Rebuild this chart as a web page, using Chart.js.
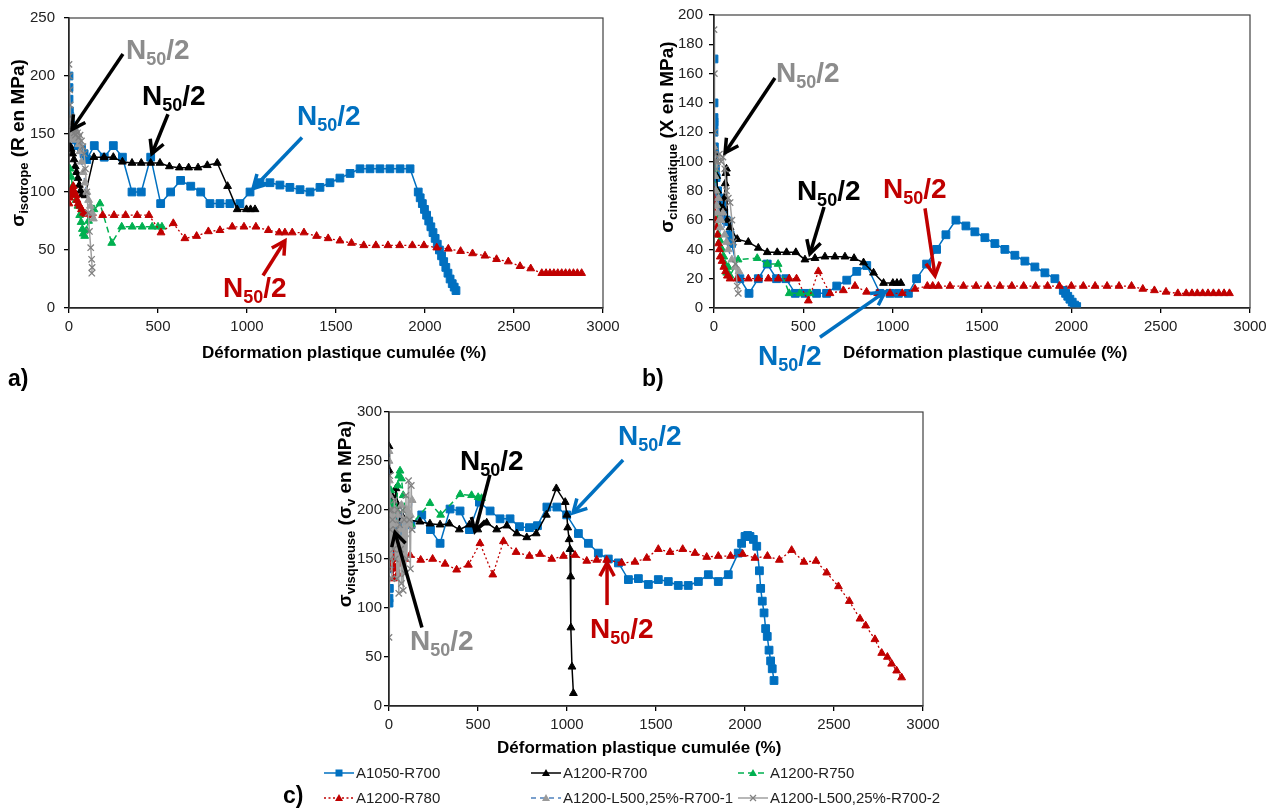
<!DOCTYPE html>
<html><head><meta charset="utf-8">
<script src="https://cdn.jsdelivr.net/npm/chart.js@4.4.1/dist/chart.umd.min.js"></script>
<style>
html,body{margin:0;padding:0;background:#fff;}
#wrap{position:relative;width:1278px;height:810px;overflow:hidden;font-family:"Liberation Sans",Arial,sans-serif;}
#wrap canvas{position:absolute;left:0;top:0;}
.leg{position:absolute;font-size:15px;color:#1f1f1f;white-space:nowrap;line-height:18px;height:18px;}
.leg svg{vertical-align:top;margin-top:2px;margin-right:2px;}
</style></head><body>
<div id="wrap">
<canvas id="ca" width="1278" height="810"></canvas>
<canvas id="cb" width="1278" height="810"></canvas>
<canvas id="cc" width="1278" height="810"></canvas>
<div id="legend"></div>
</div>
<script>
// ---------- DATA ----------
const seriesNames = ['A1050-R700','A1200-R700','A1200-R750','A1200-R780','A1200-L500,25%-R700-1','A1200-L500,25%-R700-2'];
const xTicks = [0,500,1000,1500,2000,2500,3000];

// a) sigma isotrope (R en MPa)
const isoA1050R700 = [[0,200],[0,190],[0,180],[2,170],[5,165],[10,158],[20,155],[30,150],[40,145],[52,140],[70,137],[85,133],[100,128],[142,140],[198,130],[249,140],[300,130],[354,100],[406,100],[459,130],[515,90],[571,100],[627,110],[684,105],[740,100],[792,90],[848,90],[904,90],[960,90],[1017,100],[1073,108],[1129,108],[1185,106],[1241,104],[1298,102],[1354,100],[1410,104],[1466,108],[1522,112],[1579,116],[1635,120],[1691,120],[1747,120],[1803,120],[1860,120],[1916,120],[1962,100],[1973,95],[1985,90],[1997,85],[2009,80],[2021,75],[2033,70],[2045,65],[2057,60],[2069,55],[2081,50],[2093,45],[2105,40],[2117,35],[2129,30],[2141,25],[2153,21],[2164,18],[2174,15]];
const isoA1200R700 = [[5,140],[12,137],[20,133],[28,128],[35,122],[42,117],[50,112],[58,106],[65,101],[75,98],[90,97],[140,130],[197,130],[249,130],[300,126],[354,125],[406,125],[459,125],[511,125],[564,122],[620,121],[672,121],[725,121],[777,123],[833,125],[891,105],[945,85],[997,85],[1020,85],[1045,85]];
const isoA1200R750 = [[5,120],[12,113],[20,105],[30,98],[40,93],[50,88],[60,80],[68,74],[75,68],[80,64],[88,62],[99,67],[110,75],[140,85],[174,90],[240,56],[296,70],[355,70],[411,70],[467,70],[500,70],[522,70]];
const isoA1200R780 = [[0,90],[3,95],[6,100],[10,98],[15,100],[20,103],[24,105],[30,100],[39,97],[45,93],[52,90],[60,88],[70,85],[82,82],[94,81],[126,80],[189,80],[253,80],[318,80],[383,80],[449,80],[517,65],[586,73],[651,60],[717,62],[783,66],[848,67],[917,70],[983,70],[1050,70],[1120,67],[1181,65],[1213,65],[1254,65],[1320,65],[1391,62],[1456,60],[1522,58],[1587,56],[1656,54],[1724,54],[1792,54],[1858,54],[1929,54],[1994,54],[2066,52],[2131,51],[2200,49],[2267,47],[2337,45],[2402,42],[2468,40],[2534,36],[2594,34],[2656,30],[2680,30],[2702,30],[2724,30],[2746,30],[2768,30],[2790,30],[2812,30],[2834,30],[2856,30],[2880,30]];
const isoL500R700_1 = [[0,150],[3,160],[6,155],[10,148],[15,152],[20,145],[25,150],[30,155],[35,148],[40,150],[45,145],[50,150],[55,141],[62,135],[70,126],[80,117],[90,108],[100,100],[110,93],[120,88],[130,82],[137,77]];
const isoL500R700_2 = [[0,210],[2,200],[4,188],[6,175],[8,165],[12,160],[18,157],[24,154],[30,151],[36,149],[42,154],[48,151],[55,147],[62,149],[70,144],[78,139],[85,133],[92,120],[100,100],[108,82],[115,66],[122,52],[127,42],[130,35],[128,30]];

// b) sigma cinematique (X en MPa)
const cinA1050R700 = [[0,170],[0,140],[0,130],[0,127],[0,125],[0,120],[2,110],[4,105],[8,95],[12,89],[20,80],[30,75],[43,71],[55,65],[68,60],[80,59],[90,50],[98,44],[145,20],[196,10],[248,20],[298,30],[350,20],[402,20],[455,10],[509,10],[574,10],[630,10],[687,15],[743,19],[799,25],[855,29],[929,10],[985,10],[1032,10],[1088,10],[1134,20],[1190,30],[1246,40],[1298,50],[1354,60],[1410,56],[1460,52],[1516,48],[1572,44],[1628,40],[1684,36],[1740,32],[1796,28],[1852,24],[1908,20],[1955,12],[1968,10],[1980,8],[1992,6],[2005,4],[2018,2],[2030,1]];
const cinA1200R700 = [[0,110],[5,105],[10,100],[15,90],[20,80],[25,75],[30,70],[40,65],[50,68],[58,75],[63,85],[67,92],[70,95],[75,60],[90,55],[130,47],[192,45],[248,41],[298,38],[354,38],[406,38],[458,38],[509,33],[565,34],[621,35],[677,35],[733,35],[784,34],[837,31],[893,24],[949,17],[1001,17],[1024,17],[1046,17]];
const cinA1200R750 = [[0,100],[3,95],[6,90],[10,80],[15,70],[20,60],[25,50],[34,46],[45,40],[55,35],[62,30],[71,24],[80,28],[90,22],[135,33],[242,34],[298,30],[359,30],[421,10],[481,10],[537,10]];
const cinA1200R780 = [[0,80],[3,75],[6,70],[10,60],[15,55],[20,50],[25,44],[30,40],[35,35],[45,32],[55,28],[65,25],[75,22],[90,20],[130,20],[192,20],[248,20],[304,20],[360,20],[421,20],[462,20],[528,5],[584,25],[649,10],[724,12],[789,15],[854,11],[916,10],[985,10],[1054,10],[1125,13],[1194,15],[1224,15],[1256,15],[1321,15],[1396,15],[1467,15],[1533,15],[1600,15],[1667,15],[1733,15],[1800,15],[1867,15],[1933,15],[2000,15],[2067,15],[2133,15],[2200,15],[2267,15],[2337,15],[2400,13],[2465,12],[2530,11],[2596,10],[2643,10],[2675,10],[2705,10],[2735,10],[2765,10],[2795,10],[2825,10],[2855,10],[2885,10]];
const cinL500R700_1 = [[0,110],[3,100],[6,90],[10,80],[15,70],[20,65],[25,75],[30,60],[35,55],[40,60],[50,65],[60,50],[70,45],[80,40],[100,33],[120,28],[140,25]];
const cinL500R700_2 = [[0,190],[2,160],[4,120],[6,105],[10,100],[15,95],[20,100],[30,105],[40,100],[50,103],[60,95],[70,80],[80,75],[90,72],[100,60],[110,45],[120,30],[130,15],[136,10]];

// c) sigma visqueuse (sigma_v en MPa)
const visA1050R700 = [[0,105],[0,110],[2,120],[4,140],[6,160],[10,175],[15,185],[20,195],[25,200],[30,190],[40,180],[50,175],[60,185],[70,180],[80,183],[100,185],[124,185],[184,195],[233,180],[287,166],[343,201],[399,199],[452,180],[508,208],[568,199],[624,191],[680,191],[733,183],[789,182],[834,184],[887,203],[943,203],[998,195],[1064,176],[1120,166],[1176,156],[1232,150],[1289,146],[1345,129],[1401,130],[1457,124],[1513,129],[1569,127],[1625,123],[1681,123],[1738,127],[1794,134],[1850,127],[1906,134],[1962,156],[1981,166],[2000,173],[2015,174],[2028,173],[2047,170],[2066,163],[2081,138],[2088,120],[2097,107],[2107,95],[2116,79],[2125,71],[2135,57],[2144,46],[2153,38],[2163,26]];
const visA1200R700 = [[0,265],[2,240],[4,210],[6,190],[10,200],[15,215],[20,205],[25,195],[30,200],[39,222],[50,205],[60,190],[70,195],[99,190],[174,188],[230,186],[287,185],[339,186],[395,180],[452,185],[499,180],[549,187],[605,180],[662,184],[718,176],[774,172],[827,176],[884,195],[940,222],[990,208],[999,195],[1004,182],[1012,170],[1017,160],[1021,132],[1022,80],[1028,40],[1036,13]];
const visA1200R750 = [[0,210],[5,200],[10,220],[15,195],[20,205],[30,190],[40,200],[50,225],[55,235],[62,240],[70,232],[80,215],[90,200],[110,190],[125,185],[230,207],[290,195],[400,216],[464,215],[501,213],[520,212]];
const visA1200R780 = [[0,160],[3,150],[6,140],[10,155],[15,165],[20,145],[25,130],[30,150],[35,160],[40,140],[45,155],[50,135],[60,150],[70,145],[80,155],[90,150],[118,154],[178,149],[245,150],[315,145],[380,139],[446,144],[511,166],[583,134],[643,168],[714,157],[789,153],[849,155],[914,150],[980,153],[1045,154],[1111,148],[1167,149],[1223,149],[1307,146],[1382,147],[1448,151],[1513,160],[1579,157],[1650,160],[1719,156],[1785,152],[1850,153],[1919,153],[1987,155],[2056,151],[2126,153],[2193,149],[2262,159],[2331,147],[2399,148],[2459,136],[2525,122],[2586,107],[2646,89],[2678,82],[2730,68],[2768,54],[2800,50],[2824,43],[2852,36],[2880,29]];
const visL500R700_1 = [[0,260],[0,250],[2,230],[4,215],[6,200],[10,185],[15,195],[20,180],[25,190],[30,175],[35,200],[40,185],[50,195],[60,180],[70,205],[80,190],[90,175],[100,200],[110,185],[120,195],[130,210]];
const visL500R700_2 = [[0,70],[0,140],[2,200],[4,235],[6,180],[8,150],[12,200],[16,130],[20,190],[25,160],[30,210],[35,150],[40,180],[45,130],[50,200],[55,115],[60,185],[65,160],[70,125],[75,200],[80,118],[85,190],[90,135],[95,215],[100,150],[110,230],[115,190],[120,140],[125,225],[130,180]];

// ---------- STYLE ----------
const FONT = '"Liberation Sans", Arial, Helvetica, sans-serif';
const BLUE='#0070C0', BLACK='#000000', GREEN='#00B050', RED='#C00000', GREYT='#8C8C8C';
const STYLES = [
  {borderColor:BLUE, backgroundColor:BLUE, borderWidth:1.5, pointStyle:'rect', pointRadius:5.5, pointBorderWidth:1},
  {borderColor:BLACK, backgroundColor:BLACK, borderWidth:1.5, pointStyle:'triangle', pointRadius:4.5, pointBorderWidth:1},
  {borderColor:GREEN, backgroundColor:GREEN, borderWidth:1.5, borderDash:[6,4], pointStyle:'triangle', pointRadius:4.5, pointBorderWidth:1},
  {borderColor:RED, backgroundColor:RED, borderWidth:1.3, borderDash:[2,2.5], pointStyle:'triangle', pointRadius:4.5, pointBorderWidth:1},
  {borderColor:'#4F81BD', backgroundColor:'#9A9A9A', pointBorderColor:'#9A9A9A', borderWidth:1.5, borderDash:[5,4], pointStyle:'triangle', pointRadius:4.5, pointBorderWidth:1},
  {borderColor:'#A0A0A0', backgroundColor:'#808080', pointBorderColor:'#808080', borderWidth:1.5, pointStyle:'crossRot', pointRadius:4.5, pointBorderWidth:1.3}
];

function drawN50(ctx, x, y, color){
  ctx.fillStyle=color; ctx.textAlign='left'; ctx.textBaseline='alphabetic';
  ctx.font='bold 28px '+FONT; ctx.fillText('N', x, y); let w=ctx.measureText('N').width;
  ctx.font='bold 18px '+FONT; ctx.fillText('50', x+w, y+6); w+=ctx.measureText('50').width;
  ctx.font='bold 28px '+FONT; ctx.fillText('/2', x+w, y);
}
function drawArrow(ctx, x1,y1,x2,y2,color){
  ctx.strokeStyle=color; ctx.lineWidth=3.5; ctx.lineCap='butt'; ctx.lineJoin='miter';
  ctx.beginPath(); ctx.moveTo(x1,y1); ctx.lineTo(x2,y2); ctx.stroke();
  const a=Math.atan2(y2-y1,x2-x1), L=15, h=0.5;
  ctx.beginPath();
  ctx.moveTo(x2-L*Math.cos(a-h), y2-L*Math.sin(a-h));
  ctx.lineTo(x2,y2);
  ctx.lineTo(x2-L*Math.cos(a+h), y2-L*Math.sin(a+h));
  ctx.stroke();
}
function drawYTitle(ctx, bx, cy, parts){
  ctx.save(); ctx.translate(bx, cy); ctx.rotate(-Math.PI/2);
  ctx.fillStyle='#000'; ctx.textAlign='left'; ctx.textBaseline='alphabetic';
  let tot=0; for(const p of parts){ctx.font='bold '+p[1]+'px '+FONT; tot+=ctx.measureText(p[0]).width;}
  let xx=-tot/2;
  for(const p of parts){ctx.font='bold '+p[1]+'px '+FONT; ctx.fillText(p[0], xx, p[2]); xx+=ctx.measureText(p[0]).width;}
  ctx.restore();
}

function overlay(spec){
  return {id:'ov', afterDraw(chart){
    const ctx=chart.ctx, ca=chart.chartArea, sx=chart.scales.x, sy=chart.scales.y;
    ctx.save();
    ctx.strokeStyle='#404040'; ctx.lineWidth=1.2;
    ctx.strokeRect(ca.left, ca.top, ca.right-ca.left, ca.bottom-ca.top);
    ctx.fillStyle='#000'; ctx.font='bold 17px '+FONT; ctx.textAlign='left'; ctx.textBaseline='alphabetic';
    ctx.fillText('Déformation plastique cumulée (%)', spec.xt[0], spec.xt[1]);
    drawYTitle(ctx, spec.yt[0], spec.yt[1], spec.ytParts);
    ctx.fillStyle='#000'; ctx.font='bold 23px '+FONT; ctx.textAlign='left';
    ctx.fillText(spec.panel[0], spec.panel[1], spec.panel[2]);
    for(const an of spec.annots){
      drawArrow(ctx, sx.getPixelForValue(an.a[0]), sy.getPixelForValue(an.a[1]), sx.getPixelForValue(an.a[2]), sy.getPixelForValue(an.a[3]), an.ac);
      drawN50(ctx, sx.getPixelForValue(an.t[0]), sy.getPixelForValue(an.t[1]), an.c);
    }
    ctx.restore();
  }};
}

function makeChart(id, series, spec){
  const datasets = series.map((s,i)=>Object.assign({
    label: seriesNames[i], data: s.map(p=>({x:p[0], y:p[1]})), showLine:true, tension:0, order:5-i
  }, STYLES[i]));
  return new Chart(document.getElementById(id), {
    type:'scatter',
    data:{datasets},
    options:{
      responsive:false, animation:false, events:[],
      layout:{padding:spec.pad},
      plugins:{legend:{display:false}, tooltip:{enabled:false}},
      scales:{
        x:{type:'linear', min:0, max:3000,
          afterBuildTicks:(s)=>{s.ticks=xTicks.map(v=>({value:v}));},
          ticks:{autoSkip:false, maxRotation:0, padding:5, color:'#222', font:{size:15, family:FONT}, callback:(v)=>String(v)},
          grid:{drawOnChartArea:false, drawTicks:true, tickLength:5, color:'#000', lineWidth:1.3},
          border:{display:true, color:'#000', width:1.5},
          afterFit:(s)=>{s.height=40;}},
        y:{type:'linear', min:0, max:spec.ymax,
          ticks:{stepSize:spec.ystep, autoSkip:false, padding:spec.ypad, color:'#222', font:{size:15, family:FONT}, callback:(v)=>String(v)},
          grid:{drawOnChartArea:false, drawTicks:true, tickLength:5, color:'#000', lineWidth:1.3},
          border:{display:true, color:'#000', width:1.5},
          afterFit:(s)=>{s.width=spec.yw;}}
      }
    },
    plugins:[overlay(spec)]
  });
}

makeChart('ca', [isoA1050R700, isoA1200R700, isoA1200R750, isoA1200R780, isoL500R700_1, isoL500R700_2], {
  pad:{left:0, top:14, right:675, bottom:462}, yw:69, ymax:250, ystep:50, ypad:9,
  xt:[202,358], yt:[24,143], ytParts:[['σ',19,0],['isotrope',13,4],[' (R en MPa)',19,0]],
  panel:['a)',8,386],
  annots:[
    {t:[320,215], c:GREYT, a:[303,219,17,154], ac:BLACK},
    {t:[410,175], c:BLACK, a:[556,167,466,133], ac:BLACK},
    {t:[1281,158], c:BLUE, a:[1309,147,1034,103], ac:BLUE},
    {t:[865,9.4], c:RED, a:[1090,28,1213,58], ac:RED}
  ]
});
makeChart('cb', [cinA1050R700, cinA1200R700, cinA1200R750, cinA1200R780, cinL500R700_1, cinL500R700_2], {
  pad:{left:654, top:14, right:28, bottom:462}, yw:60, ymax:200, ystep:20, ypad:6,
  xt:[843,358], yt:[673,137], ytParts:[['σ',19,0],['cinématique',13,4],[' (X en MPa)',19,0]],
  panel:['b)',642,386],
  annots:[
    {t:[347,154], c:GREYT, a:[341,157,62,106], ac:BLACK},
    {t:[464,73.5], c:BLACK, a:[616,69,537,37], ac:BLACK},
    {t:[946,75], c:RED, a:[1181,68,1237,22], ac:RED},
    {t:[246,-39], c:BLUE, a:[593,-20,957,11], ac:BLUE}
  ]
});
makeChart('cc', [visA1050R700, visA1200R700, visA1200R750, visA1200R780, visL500R700_1, visL500R700_2], {
  pad:{left:329, top:412, right:355, bottom:64}, yw:60, ymax:300, ystep:50, ypad:2,
  xt:[497,753], yt:[351,514], ytParts:[['σ',19,0],['visqueuse',13,4],[' (σ',19,0],['v',13,4],[' en MPa)',19,0]],
  panel:['c)',283,803],
  annots:[
    {t:[399,241], c:BLACK, a:[567,236,483,178], ac:BLACK},
    {t:[1287,266], c:BLUE, a:[1315,251,1034,197], ac:BLUE},
    {t:[118,57], c:GREYT, a:[185,80,34,177], ac:BLACK},
    {t:[1129,69], c:RED, a:[1225,103,1225,146], ac:RED}
  ]
});

// ---------- LEGEND (HTML) ----------
function markerSvg(st){
  const c = st.pointBorderColor || st.backgroundColor;
  if(st.pointStyle==='rect') return `<rect x="11.5" y="3.5" width="7" height="7" fill="${c}"/>`;
  if(st.pointStyle==='triangle') return `<polygon points="15,3 19,10 11,10" fill="${c}"/>`;
  return `<line x1="12" y1="4" x2="18" y2="10" stroke="${c}" stroke-width="1.3"/><line x1="18" y1="4" x2="12" y2="10" stroke="${c}" stroke-width="1.3"/>`;
}
const legPos = [[324,764],[531,764],[738,764],[324,789],[531,789],[738,789]];
let html='';
seriesNames.forEach((name,i)=>{
  const st=STYLES[i];
  const dash = st.borderDash ? `stroke-dasharray="${st.borderDash.join(',')}"` : '';
  html += `<div class="leg" style="left:${legPos[i][0]}px;top:${legPos[i][1]}px"><svg width="30" height="14"><line x1="0" y1="7" x2="30" y2="7" stroke="${st.borderColor}" stroke-width="${st.borderWidth}" ${dash}/>${markerSvg(st)}</svg>${name}</div>`;
});
document.getElementById('legend').innerHTML = html;
</script>
</body></html>
